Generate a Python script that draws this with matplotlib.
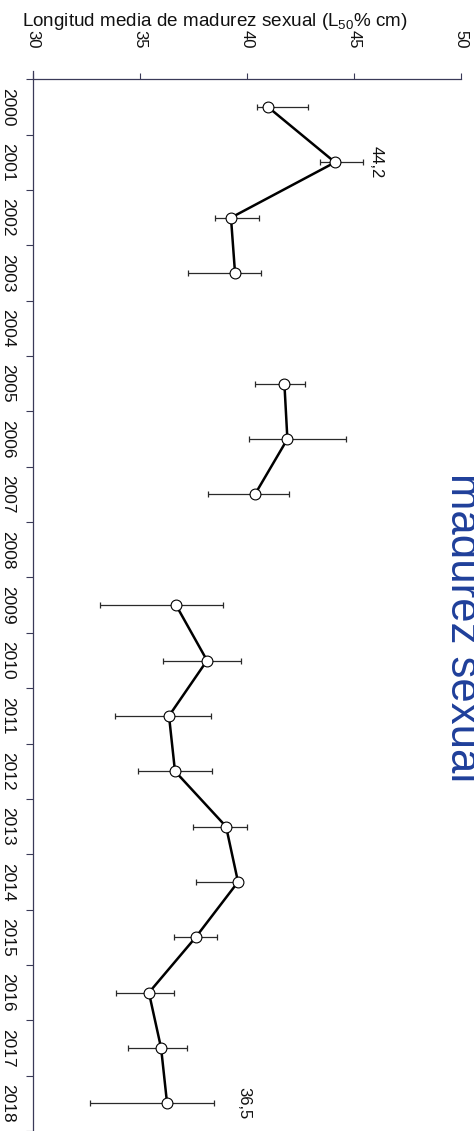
import numpy as np
import matplotlib
matplotlib.use("Agg")
import matplotlib.pyplot as plt

plt.rcParams['font.family'] = ['Liberation Sans', 'DejaVu Sans']

# data (rotated chart)
years = [2000, 2001, 2002, 2003, 2004, 2005, 2006, 2007, 2008, 2009,
         2010, 2011, 2012, 2013, 2014, 2015, 2016, 2017, 2018]
l50 = [40.98, 44.12, 39.25, 39.44, np.nan, 41.75, 41.89, 40.37, np.nan, 36.68,
       38.13, 36.35, 36.63, 39.02, 39.58, 37.60, 35.41, 35.98, 36.26]
ci_low = [40.47, 43.42, 38.50, 37.24, np.nan, 40.37, 40.09, 38.18, np.nan, 33.12,
          36.07, 33.82, 34.90, 37.47, 37.61, 36.60, 33.87, 34.43, 32.65]
ci_high = [42.86, 45.43, 40.56, 40.66, np.nan, 42.71, 44.62, 41.97, np.nan, 38.88,
           39.72, 38.30, 38.36, 40.00, 39.67, 38.58, 36.58, 37.19, 38.46]
xticks = [30, 35, 40, 45, 50]
notes = [("44,2", 1), ("36,5", 18)]
note_x = [46.04, 39.86]

axis_col = '#3a3a58'

l50 = np.array(l50)
lo = np.array(ci_low)
hi = np.array(ci_high)
pos = np.arange(len(years))

fig = plt.figure(figsize=(4.74, 11.31), dpi=100)
fig.patch.set_facecolor('white')
ax = fig.add_axes([33.3 / 474, 0.0, 427.4 / 474, 1 - 79.3 / 1131])

# error bars
ax.errorbar(l50, pos, xerr=[l50 - lo, hi - l50], fmt='none', ecolor='#2a2a2a',
            elinewidth=0.9, capsize=2.3, capthick=0.9, zorder=2)
# connecting line (gaps where no data)
ax.plot(l50, pos, '-', color='black', lw=1.8, zorder=3)
ax.plot(l50, pos, 'o', ms=7.8, mfc='white', mec='black', mew=0.8, zorder=4)

for (txt, i), xv in zip(notes, note_x):
    ax.text(xv, i, txt, rotation=-90, ha='center', va='center', fontsize=12, color='#111111')

ax.set_xlim(30, 50)
ax.set_ylim(len(years) - 0.5, -0.5)

ax.xaxis.tick_top()
ax.set_xticks(xticks)
ax.set_xticklabels([str(v) for v in xticks], rotation=-90)
ax.tick_params(axis='x', direction='out', length=4, width=0.8, color=axis_col,
               pad=18, labelsize=12, labelcolor='#111111')

ax.set_yticks(np.arange(-0.5, len(years)))
ax.set_yticklabels([])
ax.set_yticks(pos, minor=True)
ax.set_yticklabels([str(y) for y in years], minor=True, rotation=-90, va='center')
ax.tick_params(axis='y', which='major', direction='out', length=5, width=0.8, color=axis_col)
ax.tick_params(axis='y', which='minor', length=0, pad=13, labelsize=12.5, labelcolor='#111111')

for s in ['right', 'bottom']:
    ax.spines[s].set_visible(False)
for s in ['left', 'top']:
    ax.spines[s].set_color(axis_col)
    ax.spines[s].set_linewidth(0.9)
ax.spines['left'].set_bounds(len(years) - 0.5, -0.65)

fig.text(22 / 474, 1 - 26 / 1131, r"Longitud media de madurez sexual (L$\mathregular{_{50}}$% cm)",
         fontsize=13.6, color='#111111', va='baseline', ha='left')

# title, cut by the right border in the scan
fig.text(451 / 474, 1 - 473 / 1131, "madurez sexual", rotation=-90, rotation_mode='anchor',
         ha='left', va='baseline', fontsize=31.5, color='#1f3f9a')

fig.savefig('out.png', dpi=100)
